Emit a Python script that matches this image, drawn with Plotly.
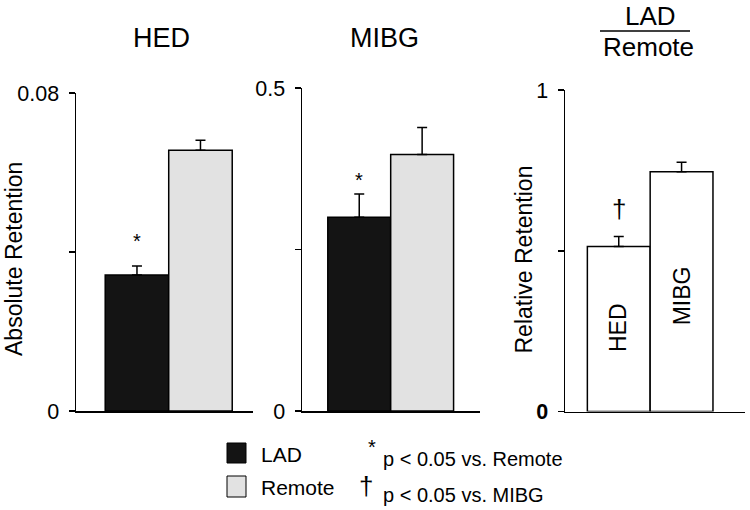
import plotly.graph_objects as go

# ---------------- data ----------------
groups = ["LAD", "Remote"]
hed_abs = [0.0342, 0.0656]
hed_abs_se = [0.0023, 0.0025]
mibg_abs = [0.300, 0.397]
mibg_abs_se = [0.036, 0.042]
ratio_cats = ["HED", "MIBG"]
ratio_vals = [0.513, 0.746]
ratio_se = [0.031, 0.029]

panel_titles = ["HED", "MIBG"]
ratio_title_num = "LAD"
ratio_title_den = "Remote"
ytitle_abs = "Absolute Retention"
ytitle_rel = "Relative Retention"
legend_notes = ["p < 0.05 vs. Remote", "p < 0.05 vs. MIBG"]

W, H = 750, 510
FONT = "Liberation Sans, Arial, Helvetica, sans-serif"
LAD_COLOR = "#141414"
REM_COLOR = "#e2e2e2"


def px(x):
    return x / W


def py(y):
    return 1 - y / H


fig = go.Figure()

# panel 1 (HED absolute)
fig.add_trace(go.Bar(
    x=[0, 1], y=hed_abs, width=1.0,
    marker=dict(color=[LAD_COLOR, REM_COLOR], line=dict(color="black", width=1.5)),
    error_y=dict(type="data", symmetric=False, array=hed_abs_se, arrayminus=[0, 0],
                 color="black", thickness=1.5, width=5),
    xaxis="x", yaxis="y", showlegend=False, hoverinfo="skip"))
# panel 2 (MIBG absolute)
fig.add_trace(go.Bar(
    x=[0, 1], y=mibg_abs, width=1.0,
    marker=dict(color=[LAD_COLOR, REM_COLOR], line=dict(color="black", width=1.5)),
    error_y=dict(type="data", symmetric=False, array=mibg_abs_se, arrayminus=[0, 0],
                 color="black", thickness=1.5, width=5),
    xaxis="x2", yaxis="y2", showlegend=False, hoverinfo="skip"))
# panel 3 (ratio)
fig.add_trace(go.Bar(
    x=[0, 1], y=ratio_vals, width=1.0,
    marker=dict(color="white", line=dict(color="black", width=1.5)),
    error_y=dict(type="data", symmetric=False, array=ratio_se, arrayminus=[0, 0],
                 color="black", thickness=1.5, width=5),
    xaxis="x3", yaxis="y3", showlegend=False, hoverinfo="skip"))

xcommon = dict(showline=True, linecolor="black", linewidth=1.5, showticklabels=False,
               ticks="", showgrid=False, zeroline=False, fixedrange=True, automargin=False)
ycommon = dict(showline=True, linecolor="black", linewidth=1.5, ticks="outside",
               ticklen=6, tickwidth=1.5, tickcolor="black", showgrid=False, automargin=False,
               zeroline=False, ticklabelstandoff=5, fixedrange=True,
               tickfont=dict(size=21.5, color="black", family=FONT))

y0 = py(411)

fig.update_layout(
    width=W, height=H,
    margin=dict(l=0, r=0, t=0, b=0, pad=0, autoexpand=False),
    paper_bgcolor="white", plot_bgcolor="rgba(0,0,0,0)",
    bargap=0, showlegend=False,
    font=dict(family=FONT, color="black"),
    xaxis=dict(domain=[px(76), px(253)], range=[-0.96, 1.827], anchor="y", **xcommon),
    yaxis=dict(domain=[y0, py(93)], range=[0, 0.08], anchor="x",
               tickvals=[0, 0.04, 0.08], ticktext=["0", "", "0.08"], **ycommon),
    xaxis2=dict(domain=[px(302), px(480)], range=[-0.91, 1.92], anchor="y2", **xcommon),
    yaxis2=dict(domain=[y0, py(88)], range=[0, 0.5], anchor="x2",
                tickvals=[0, 0.25, 0.5], ticktext=["0", "", "0.5"], **ycommon),
    xaxis3=dict(domain=[px(565), px(745)], range=[-0.856, 2.01], anchor="y3", **xcommon),
    yaxis3=dict(domain=[py(411.5), py(90)], range=[0, 1], anchor="x3",
                tickvals=[0, 0.5, 1], ticktext=["<b>0</b>", "", "1"], **ycommon),
)


def A(x, y, text, size, xref="paper", yref="paper", xanchor="center", angle=0):
    return dict(x=x, y=y, xref=xref, yref=yref, text=text, showarrow=False,
                xanchor=xanchor, yanchor="middle", textangle=angle,
                font=dict(size=size, color="black", family=FONT))


ann = [
    # panel titles
    A(px(161.5), py(38), panel_titles[0], 27),
    A(px(384), py(38), panel_titles[1], 27),
    A(px(650), py(15.5), ratio_title_num, 26),
    A(px(648), py(47), ratio_title_den, 26),
    # y-axis titles
    A(px(14), py(259), ytitle_abs, 23, angle=-90),
    A(px(523.5), py(260), ytitle_rel, 23, angle=-90),
    # significance marks
    A(0, 0.0428, "*", 20, xref="x", yref="y"),
    A(0, 0.357, "*", 20, xref="x2", yref="y2"),
    A(0, 0.63, "†", 26, xref="x3", yref="y3"),
    # labels inside ratio bars
    A(0, 0.262, ratio_cats[0], 23, xref="x3", yref="y3", angle=-90),
    A(1, 0.36, ratio_cats[1], 23, xref="x3", yref="y3", angle=-90),
    # legend
    A(px(259), py(454), groups[0], 21, xanchor="left"),
    A(px(259), py(487), groups[1], 21, xanchor="left"),
    A(px(372), py(447), "*", 20),
    A(px(381), py(459), legend_notes[0], 20, xanchor="left"),
    A(px(366), py(486), "†", 26),
    A(px(381), py(495), legend_notes[1], 20, xanchor="left"),
]
fig.update_layout(annotations=ann)

shapes = [
    # fraction bar
    dict(type="line", xref="paper", yref="paper", x0=px(600), x1=px(690), y0=py(31), y1=py(31),
         line=dict(color="black", width=1.5)),
    # legend swatches
    dict(type="rect", xref="paper", yref="paper", x0=px(227), x1=px(246), y0=py(463), y1=py(443),
         fillcolor=LAD_COLOR, line=dict(color="black", width=1)),
    dict(type="rect", xref="paper", yref="paper", x0=px(227), x1=px(246), y0=py(497), y1=py(476),
         fillcolor=REM_COLOR, line=dict(color="black", width=1)),
]
fig.update_layout(shapes=shapes)

fig.write_html(
    "out.html",
    config={"displayModeBar": False, "staticPlot": True},
    post_script="document.body.style.margin='0';document.body.style.padding='0';",
)
